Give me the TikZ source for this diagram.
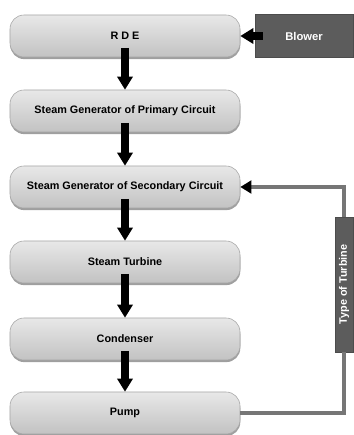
\documentclass[tikz,border=0pt]{standalone}
\usepackage{fontspec}
\setmainfont{Liberation Sans}
\usetikzlibrary{positioning, arrows.meta, shadows}
\definecolor{xlight}{HTML}{E8E8E8}
\definecolor{xmid}{HTML}{C2C2C2}
\definecolor{xdark}{HTML}{5C5C5C}
\definecolor{xline}{HTML}{767676}
\tikzset{
	block/.style={rounded corners=0.35cm, minimum width=5.75cm, minimum height=1.05cm, top color=xlight, bottom color=xmid, draw=gray!70, drop shadow={shadow xshift=0.2pt, shadow yshift=-1.5pt, fill=gray!75, opacity=1}, font=\fontsize{7.7}{9}\selectfont\bfseries},
	sidebox/.style={fill=xdark, draw=black!70, text=white, inner sep=1pt, font=\fontsize{7.7}{9}\selectfont\bfseries},
	flow/.style={line width=5pt, -{Triangle[length=0.33cm, width=0.38cm]}},
	feed/.style={line width=2.2pt, draw=xline},
}

\begin{document}
\begin{tikzpicture}
		\useasboundingbox (0,0) rectangle (8.825,10.875);
		% Main chain
		\node[block] (RDE) at (3.125,9.975) {R D E};
		\node[block] (SGP) at (3.125,8.1) {Steam Generator of Primary Circuit};
		\node[block] (SGS) at (3.125,6.2) {Steam Generator of Secondary Circuit};
		\node[block] (ST) at (3.125,4.325) {Steam Turbine};
		\node[block] (C) at (3.125,2.4) {Condenser};
		\node[block] (P) at (3.125,0.55) {Pump};

		\draw[flow] ([yshift=-0.3cm]RDE.center) -- (SGP.north);
		\draw[flow] ([yshift=-0.3cm]SGP.center) -- (SGS.north);
		\draw[flow] ([yshift=-0.3cm]SGS.center) -- (ST.north);
		\draw[flow] ([yshift=-0.3cm]ST.center) -- (C.north);
		\draw[flow] ([yshift=-0.3cm]C.center) -- (P.north);

		% Side boxes
		\node[sidebox, minimum width=2.45cm, minimum height=1.075cm, font=\fontsize{8}{9}\selectfont\bfseries] (B) at (7.6,9.975) {Blower};
		\draw[flow] ([xshift=2mm]B.west) -- (RDE.east);

		\node[sidebox, minimum width=0.45cm, minimum height=3.375cm] (T) at (8.6,3.7625) {\rotatebox{90}{Type of Turbine}};
		\draw[feed] (P.east) -| (T.south);
		\draw[feed, -{Triangle[length=0.28cm, width=0.32cm, black]}] (T.north) |- (SGS.east);
	\end{tikzpicture}
\end{document}
